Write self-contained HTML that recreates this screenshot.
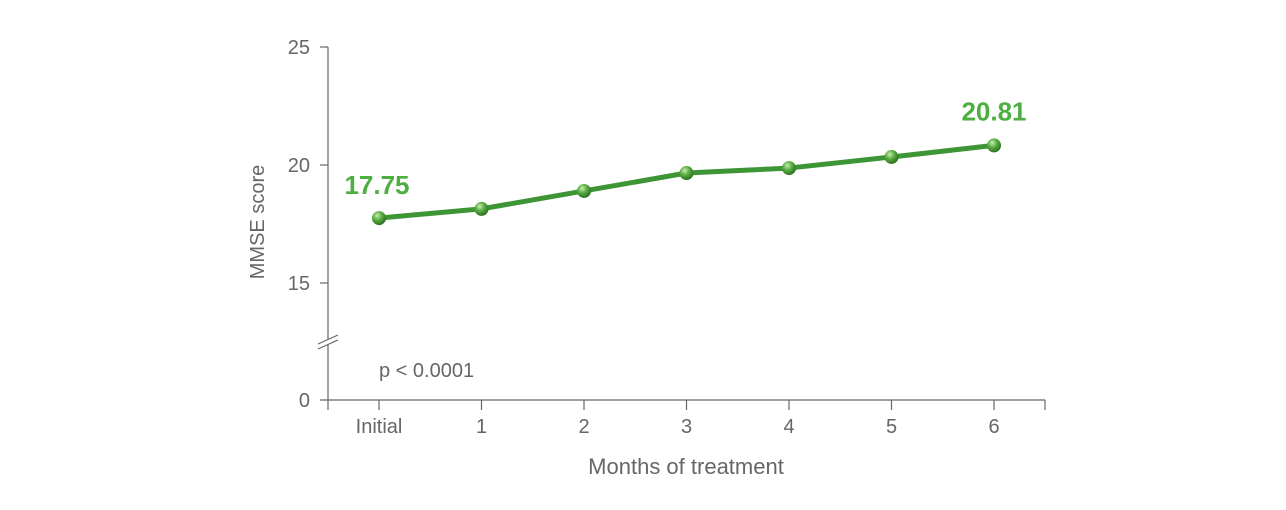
<!DOCTYPE html>
<html><head><meta charset="utf-8"><style>
html,body{margin:0;padding:0;background:#fff;}
svg{display:block;font-family:"Liberation Sans",Arial,sans-serif;}
</style></head><body>
<svg id="chart" width="1286" height="510" viewBox="0 0 1286 510">
<defs>
<radialGradient id="ball" cx="0.38" cy="0.32" r="0.7">
<stop offset="0" stop-color="#c8ecb4"/><stop offset="0.45" stop-color="#5cb043"/><stop offset="1" stop-color="#2a6e22"/>
</radialGradient>
</defs>
<g id="axes"></g>
<g id="marks"></g>
</svg>
<script>
const categories = ["Initial","1","2","3","4","5","6"];
const values = [17.75,18.14,18.9,19.66,19.87,20.34,20.83];
const yTicks = [15,20,25];
const labelIdx = [0,6];
const labelText = ["17.75","20.81"];

const NS="http://www.w3.org/2000/svg";
const axes=document.getElementById('axes'), marks=document.getElementById('marks');
function mk(tag,attrs,parent){const e=document.createElementNS(NS,tag);for(const k in attrs)e.setAttribute(k,attrs[k]);parent.appendChild(e);return e;}
const x0=379, dx=102.5;
function xs(i){return x0+i*dx;}
function ys(v){return 165-(v-20)*23.6;}
const ax="#666", tc="#666";

let l=mk('line',{x1:328,y1:47,x2:328,y2:339,stroke:ax,'stroke-width':1.2},axes);

l=mk('line',{x1:328,y1:345,x2:328,y2:410,stroke:ax,'stroke-width':1.2},axes);

l=mk('path',{d:'M318 344 L338 335 M318 349 L338 340',stroke:ax,'stroke-width':1.2,fill:'none'},axes);

l=mk('line',{x1:320,y1:400,x2:1045,y2:400,stroke:ax,'stroke-width':1.2},axes);

l=mk('line',{x1:1045,y1:400,x2:1045,y2:410,stroke:ax,'stroke-width':1.2},axes);


yTicks.forEach(v=>{
 const y=ys(v);
 let t=mk('line',{x1:320,y1:y,x2:328,y2:y,stroke:ax,'stroke-width':1.2},axes);
 
 let tx=mk('text',{x:310,y:y+7,'text-anchor':'end','font-size':20,fill:tc},axes);tx.textContent=v;
 
});
let z=mk('text',{x:310,y:407,'text-anchor':'end','font-size':20,fill:tc},axes);z.textContent="0";


categories.forEach((c,i)=>{
 const x=xs(i);
 let t=mk('line',{x1:x,y1:400,x2:x,y2:410,stroke:ax,'stroke-width':1.2},axes);
 
 let tx=mk('text',{x:x,y:433,'text-anchor':'middle','font-size':20,fill:tc},axes);tx.textContent=c;
 
});
let xt=mk('text',{x:686,y:474,'text-anchor':'middle','font-size':22,fill:tc},axes);xt.textContent="Months of treatment";

let yt=mk('text',{x:0,y:0,'text-anchor':'middle','font-size':20,fill:tc,transform:'translate(264,222) rotate(-90)'},axes);yt.textContent="MMSE score";

let p=mk('text',{x:379,y:377,'font-size':20,fill:tc},axes);p.textContent="p < 0.0001";


const pts=values.map((v,i)=>xs(i)+','+ys(v)).join(' ');
let pl=mk('polyline',{points:pts,fill:'none',stroke:'#3d9535','stroke-width':5,'stroke-linejoin':'round'},marks);

values.forEach((v,i)=>{
 let c=mk('circle',{cx:xs(i),cy:ys(v),r:7,fill:'url(#ball)'},marks);
 
 
});
labelIdx.forEach((i,k)=>{
 let t=mk('text',{x:xs(i)-(k==0?2:0),y:ys(values[i])-(k==0?24:25),'text-anchor':'middle','font-size':26,'font-weight':'bold',fill:'#4caf3f'},marks);
 t.textContent=labelText[k];
 
 
});
</script>
</body></html>
